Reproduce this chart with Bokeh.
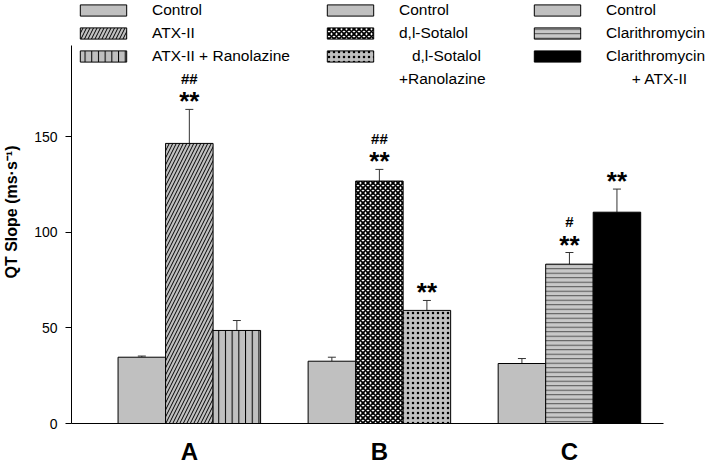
from bokeh.plotting import figure
from bokeh.models import (Range1d, FixedTicker, Legend, LegendItem, Whisker, TeeHead,
                          ColumnDataSource)
from bokeh.core.properties import value
from bokeh.embed import file_html
from bokeh.resources import INLINE

# ---------------- data ----------------
groups = ["A", "B", "C"]
series_labels = [
    ["Control", "ATX-II", "ATX-II + Ranolazine"],
    ["Control", "d,l-Sotalol", "\u00a0\u00a0\u00a0d,l-Sotalol\n+Ranolazine"],
    ["Control", "Clarithromycin", "Clarithromycin\n\u00a0\u00a0\u00a0\u00a0\u00a0\u00a0+ ATX-II"],
]
means = [[34.7, 146.6, 48.7],
         [32.6, 126.9, 59.2],
         [31.4, 83.4, 110.6]]
sems = [[0.6, 17.8, 5.2],
        [2.1, 6.1, 5.2],
        [2.6, 6.1, 12.1]]
stars = [["", "**", ""],
         ["", "**", "**"],
         ["", "**", "**"]]
hashes = [["", "##", ""],
          ["", "##", ""],
          ["", "#", ""]]
y_ticks = [0, 50, 100, 150]
y_axis_max = 197.8

FONT = "Liberation Sans"
GRAY = "#c0c0c0"
styles = [
    [dict(fill_color=GRAY),
     dict(fill_color=GRAY, hatch_pattern="/", hatch_scale=7, hatch_color="black", hatch_weight=1),
     dict(fill_color=GRAY, hatch_pattern="|", hatch_scale=6.7, hatch_color="black", hatch_weight=1)],
    [dict(fill_color=GRAY),
     dict(fill_color="white", hatch_pattern="x", hatch_scale=5, hatch_color="black", hatch_weight=1.8),
     dict(fill_color="#c0c0c0", hatch_pattern=".", hatch_scale=5, hatch_color="black", hatch_weight=3.5)],
    [dict(fill_color=GRAY),
     dict(fill_color="#c8c8c8", hatch_pattern="-", hatch_scale=4.5, hatch_color="#505050", hatch_weight=1),
     dict(fill_color="black")],
]

# ---------------- figure ----------------
W, H = 709, 468
FRAME_LEFT, FRAME_BOTTOM = 67, 45
FRAME_H = H - FRAME_BOTTOM
p = figure(width=W, height=H, output_backend="svg", toolbar_location=None,
           x_range=Range1d(0.38, 3.737), y_range=Range1d(0, 221.4),
           min_border_left=FRAME_LEFT, min_border_right=0, min_border_top=0,
           min_border_bottom=FRAME_BOTTOM)
p.outline_line_color = None
p.xgrid.visible = False
p.ygrid.visible = False
p.background_fill_color = "white"

bar_w = 0.25
offsets = [-bar_w, 0.0, bar_w]

renderers = []
xs_all, up_all, top_all, star_all, hash_all = [], [], [], [], []
for gi, g in enumerate(groups):
    row = []
    for si in range(3):
        x = gi + 1 + offsets[si]
        r = p.vbar(x=[x], top=[means[gi][si]], bottom=0, width=bar_w,
                   line_color="black", line_width=1, **styles[gi][si])
        row.append(r)
        xs_all.append(x)
        top_all.append(means[gi][si])
        up_all.append(means[gi][si] + sems[gi][si])
        star_all.append(stars[gi][si])
        hash_all.append(hashes[gi][si])
    renderers.append(row)

src = ColumnDataSource(dict(x=xs_all, top=top_all, upper=up_all, star=star_all, hsh=hash_all))
wh = Whisker(source=src, base="x", upper="upper", lower="top", dimension="height",
             line_color="#333333", line_width=1,
             upper_head=TeeHead(size=8, line_color="#333333", line_width=1), lower_head=None)
p.add_layout(wh)

p.text(x="x", y="upper", text="star", source=src, text_font=value(FONT),
       text_font_size="26px", text_font_style="bold", text_align="center",
       text_baseline="alphabetic", y_offset=-8, text_color="black")
p.text(x="x", y="upper", text="hsh", source=src, text_font=value(FONT),
       text_font_size="15px", text_font_style="bold", text_align="center",
       text_baseline="alphabetic", y_offset=-31, text_color="black")

# ---------------- axes ----------------
ya = p.yaxis[0]
ya.ticker = FixedTicker(ticks=y_ticks)
ya.bounds = (0, y_axis_max)
ya.major_tick_out = 6
ya.major_tick_in = 0
ya.minor_tick_line_color = None
ya.axis_line_color = "black"
ya.major_tick_line_color = "black"
ya.major_label_text_font = FONT
ya.major_label_text_font_size = "14px"
ya.major_label_text_color = "black"
ya.major_label_standoff = 8
ya.axis_label = "QT Slope (ms\u00b7s\u207b\u00b9)"
ya.axis_label_text_font = FONT
ya.axis_label_text_font_size = "16px"
ya.axis_label_text_font_style = "bold"
ya.axis_label_text_color = "black"
ya.axis_label_standoff = 11

group_x = [i + 1 for i in range(len(groups))]
xa = p.xaxis[0]
xa.ticker = FixedTicker(ticks=group_x)
xa.major_label_overrides = {gx: g for gx, g in zip(group_x, groups)}
xa.bounds = (0.38, 3.496)
xa.major_tick_out = 0
xa.major_tick_in = 0
xa.minor_tick_line_color = None
xa.axis_line_color = "black"
xa.major_label_text_font = FONT
xa.major_label_text_font_size = "24px"
xa.major_label_text_font_style = "bold"
xa.major_label_text_color = "black"
xa.major_label_standoff = 14

# ---------------- legends ----------------
legend_x = [3, 250, 457]
legend_standoff = [20, 20, 20]
legend_font = ["15.5px", "15.5px", "15.5px"]
for gi in range(len(groups)):
    items = []
    for si in range(3):
        lines = series_labels[gi][si].split("\n")
        items.append(LegendItem(label=lines[0], renderers=[renderers[gi][si]]))
        for extra in lines[1:]:
            d = p.vbar(x=[], top=[], width=bar_w, fill_alpha=0, line_alpha=0)
            items.append(LegendItem(label=extra, renderers=[d]))
    n = len(items)
    lh, sp = 18, 5
    height = n * lh + (n - 1) * sp
    leg = Legend(items=items, location=(legend_x[gi], FRAME_H - 1 - height),
                 glyph_width=58, glyph_height=14, label_height=lh, spacing=sp,
                 label_standoff=legend_standoff[gi], padding=0, margin=0,
                 border_line_color=None, background_fill_alpha=0,
                 label_text_font=FONT, label_text_font_size=legend_font[gi],
                 label_text_color="black")
    p.add_layout(leg, "center")

open("out.html", "w").write(file_html(p, INLINE))
